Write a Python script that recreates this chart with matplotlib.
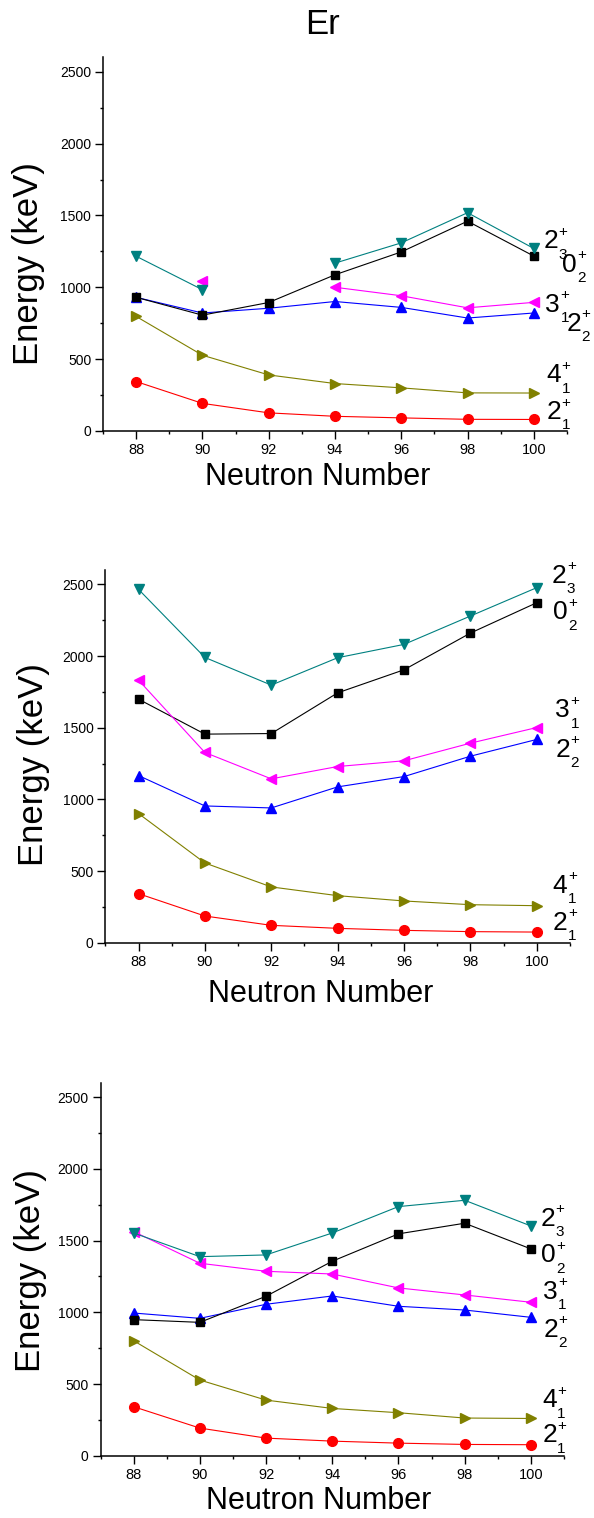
import numpy as np
import matplotlib
matplotlib.use("Agg")
import matplotlib.pyplot as plt
from matplotlib.ticker import MultipleLocator
from matplotlib.transforms import offset_copy

plt.rcParams['font.family'] = ['Liberation Sans', 'DejaVu Sans']

nan = np.nan
neutrons = [88, 90, 92, 94, 96, 98, 100]

# Panel 1 level energies (keV)
p1_2p1 = [344, 192, 126, 102, 91, 81, 80]
p1_4p1 = [797, 527, 390, 330, 300, 265, 264]
p1_2p2 = [930, 821, 854, 901, 860, 786, 821]
p1_0p2 = [930, 806, 894, 1087, 1246, 1460, 1217]
p1_2p3 = [1216, 983, nan, 1168, 1309, 1519, 1270]
p1_3p1 = [nan, 1044, nan, 1000, 941, 857, 895]

# Panel 2 level energies (keV)
p2_2p1 = [342, 186, 121, 100, 86, 77, 74]
p2_4p1 = [901, 556, 389, 328, 291, 265, 258]
p2_2p2 = [1166, 954, 940, 1087, 1159, 1301, 1418]
p2_3p1 = [1832, 1327, 1143, 1229, 1269, 1392, 1501]
p2_0p2 = [1699, 1455, 1459, 1743, 1904, 2160, 2372]
p2_2p3 = [2465, 1990, 1797, 1988, 2081, 2279, 2477]

# Panel 3 level energies (keV)
p3_2p1 = [342, 193, 123, 102, 88, 79, 77]
p3_4p1 = [802, 528, 388, 330, 300, 263, 260]
p3_2p2 = [995, 958, 1056, 1114, 1042, 1016, 965]
p3_0p2 = [949, 930, 1112, 1356, 1547, 1621, 1442]
p3_3p1 = [1563, 1342, 1286, 1267, 1170, 1121, 1070]
p3_2p3 = [1553, 1388, 1400, 1553, 1737, 1781, 1602]

level_names = ['2p1', '4p1', '2p2', '0p2', '3p1', '2p3']
# (spin, index) for each level label J^+_n
level_parts = {'2p1': ('2', '1'), '4p1': ('4', '1'), '2p2': ('2', '2'),
               '0p2': ('0', '2'), '3p1': ('3', '1'), '2p3': ('2', '3')}
styles = {
    '2p1': dict(color='#ff0000', marker='o', ms=7.0),
    '4p1': dict(color='#808000', marker='>', ms=7.4),
    '2p2': dict(color='#0000ff', marker='^', ms=7.4),
    '0p2': dict(color='#000000', marker='s', ms=5.4),
    '3p1': dict(color='#ff00ff', marker='<', ms=7.4),
    '2p3': dict(color='#008080', marker='v', ms=7.4),
}

panels = [
    dict(rect=[0.1734, 0.7161, 0.7811, 0.2461],
         series={'2p1': p1_2p1, '4p1': p1_4p1, '2p2': p1_2p2,
                 '0p2': p1_0p2, '3p1': p1_3p1, '2p3': p1_2p3},
         labels={'2p3': (100.29, 1270), '0p2': (100.86, 1107),
                 '3p1': (100.35, 827), '2p2': (100.98, 699),
                 '4p1': (100.38, 338), '2p1': (100.38, 82)},
         ylab=(-0.161, 0.447), xlab=(0.463, -0.122)),
    dict(rect=[0.1773, 0.3790, 0.7823, 0.2455],
         series={'2p1': p2_2p1, '4p1': p2_4p1, '2p2': p2_2p2,
                 '0p2': p2_0p2, '3p1': p2_3p1, '2p3': p2_2p3},
         labels={'2p3': (100.45, 2512), '0p2': (100.48, 2256),
                 '3p1': (100.56, 1571), '2p2': (100.56, 1297),
                 '4p1': (100.48, 347), '2p1': (100.48, 91)},
         ylab=(-0.155, 0.478), xlab=(0.463, -0.138)),
    dict(rect=[0.1692, 0.0410, 0.7803, 0.2457],
         series={'2p1': p3_2p1, '4p1': p3_4p1, '2p2': p3_2p2,
                 '0p2': p3_0p2, '3p1': p3_3p1, '2p3': p3_2p3},
         labels={'2p3': (100.28, 1605), '0p2': (100.31, 1349),
                 '3p1': (100.37, 1093), '2p2': (100.37, 830),
                 '4p1': (100.34, 337), '2p1': (100.34, 93)},
         ylab=(-0.150, 0.497), xlab=(0.471, -0.121)),
]

MAIN_FS = 19
SCRIPT_FS = 11
DIGIT_W = 0.556 * MAIN_FS  # advance width of a digit, in points

fig = plt.figure(figsize=(5.94, 15.18), dpi=100)


def level_label(ax, x, y, spin, index):
    """Draw J^+_n with the '+' stacked above the index."""
    ax.text(x, y, spin, fontsize=MAIN_FS, ha='left', va='baseline',
            transform=ax.transData, clip_on=False)
    sup = offset_copy(ax.transData, fig=fig, x=DIGIT_W + 0.3,
                      y=0.48 * MAIN_FS, units='points')
    sub = offset_copy(ax.transData, fig=fig, x=DIGIT_W + 0.3,
                      y=-0.39 * MAIN_FS, units='points')
    ax.text(x, y, '+', fontsize=SCRIPT_FS, ha='left', va='baseline',
            transform=sup, clip_on=False)
    ax.text(x, y, index, fontsize=SCRIPT_FS, ha='left', va='baseline',
            transform=sub, clip_on=False)


for p in panels:
    ax = fig.add_axes(p['rect'])
    for name in level_names:
        st = styles[name]
        ax.plot(neutrons, p['series'][name], color=st['color'], lw=0.8,
                marker=st['marker'], ms=st['ms'], mec=st['color'],
                mfc=st['color'], clip_on=False, zorder=3)
    for name, (lx, ly) in p['labels'].items():
        level_label(ax, lx, ly, *level_parts[name])

    ax.set_xlim(87, 101)
    ax.set_ylim(0, 2600)
    ax.xaxis.set_major_locator(MultipleLocator(2))
    ax.xaxis.set_minor_locator(MultipleLocator(1))
    ax.yaxis.set_major_locator(MultipleLocator(500))
    ax.yaxis.set_minor_locator(MultipleLocator(250))
    ax.set_yticks([0, 500, 1000, 1500, 2000, 2500])
    ax.set_xticks(neutrons)

    for side in ('top', 'right'):
        ax.spines[side].set_visible(False)
    for side in ('left', 'bottom'):
        ax.spines[side].set_linewidth(1.1)

    ax.tick_params(which='major', direction='out', length=5.5, width=1.0)
    ax.tick_params(which='minor', direction='out', length=2.5, width=1.0)
    ax.tick_params(axis='y', labelsize=10, pad=3)
    ax.tick_params(axis='x', labelsize=10.5, pad=3.5)

    ax.set_ylabel('Energy (keV)', fontsize=25, va='center', ha='center')
    ax.yaxis.set_label_coords(*p['ylab'])
    ax.set_xlabel('Neutron Number', fontsize=22, va='center', ha='center')
    ax.xaxis.set_label_coords(*p['xlab'])

fig.text(322 / 594, 1 - 25 / 1518, 'Er', fontsize=25, ha='center', va='center')

fig.savefig('out.png', dpi=100)
